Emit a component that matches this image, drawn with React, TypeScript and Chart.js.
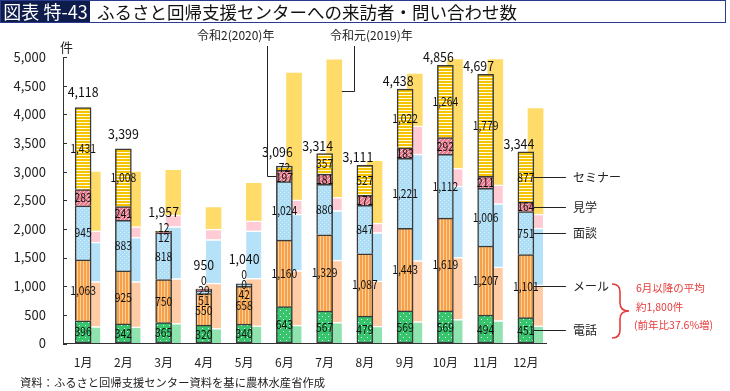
import React, { useEffect, useRef } from 'react';
import { Chart, registerables } from 'chart.js';

Chart.register(...registerables);

const FONT = '"Noto Sans CJK JP", "Noto Sans", sans-serif';
const NUM_FONT = '"Noto Sans CJK JP", "Noto Sans", sans-serif';

// ---- data ----
const MONTHS = ['1月', '2月', '3月', '4月', '5月', '6月', '7月', '8月', '9月', '10月', '11月', '12月'];
const SERIES_NAMES = ['電話', 'メール', '面談', '見学', 'セミナー'];

// 令和2(2020)年
const PHONE_2020 = [396, 342, 365, 320, 340, 643, 567, 479, 569, 569, 494, 451];
const MAIL_2020 = [1063, 925, 750, 550, 658, 1160, 1329, 1087, 1443, 1619, 1207, 1101];
const MEET_2020 = [945, 883, 818, 51, 42, 1024, 880, 847, 1221, 1112, 1006, 751];
const VISIT_2020 = [283, 241, 12, 29, 0, 197, 181, 171, 183, 292, 211, 164];
const SEMINAR_2020 = [1431, 1008, 12, 0, 0, 72, 357, 527, 1022, 1264, 1779, 877];

// 令和元(2019)年
const PHONE_2019 = [295, 290, 350, 266, 308, 323, 370, 306, 381, 423, 402, 309];
const MAIL_2019 = [785, 790, 783, 788, 830, 950, 1084, 786, 1067, 1080, 934, 713];
const MEET_2019 = [690, 775, 909, 761, 830, 985, 867, 845, 1857, 1243, 1104, 991];
const VISIT_2019 = [195, 187, 201, 183, 173, 250, 228, 163, 495, 309, 330, 247];
const SEMINAR_2019 = [1025, 950, 777, 376, 655, 2212, 2401, 1078, 903, 1899, 2184, 1838];

const Y_MAX = 5000;
const Y_STEP = 500;
const ANNOTATION_2019_VALUE = 4400;

const SERIES_2020 = [PHONE_2020, MAIL_2020, MEET_2020, VISIT_2020, SEMINAR_2020];
const SERIES_2019 = [PHONE_2019, MAIL_2019, MEET_2019, VISIT_2019, SEMINAR_2019];

// ---- styles ----
const COLORS_2019 = ['#8FE3AE', '#FFCCA6', '#B5E2F8', '#FFCCD6', '#FFDB6A'];
const BORDER_2020 = '#3a3a3a';
const SHIFT_2019 = 0.24;
const RED = '#E63B3B';

const fmt = (v: number) => v.toLocaleString('en-US');

function makePattern(w: number, h: number, base: string, paint: (g: CanvasRenderingContext2D) => void) {
  const c = document.createElement('canvas');
  c.width = w;
  c.height = h;
  const g = c.getContext('2d') as CanvasRenderingContext2D;
  g.fillStyle = base;
  g.fillRect(0, 0, w, h);
  paint(g);
  return g.createPattern(c, 'repeat') as CanvasPattern;
}

function makePatterns2020() {
  const phone = makePattern(6, 6, '#36C46C', (g) => {
    g.fillStyle = '#E8FFF0';
    g.fillRect(1, 1, 1, 1);
    g.fillRect(4, 4, 1, 1);
  });
  const mail = makePattern(3, 1, '#F6A049', (g) => {
    g.fillStyle = '#FFD09C';
    g.fillRect(2, 0, 1, 1);
  });
  const meet = makePattern(4, 4, '#AEDDF6', (g) => {
    g.fillStyle = '#D6EFFB';
    g.fillRect(0, 0, 1, 1);
    g.fillRect(2, 2, 1, 1);
  });
  const visit = makePattern(4, 4, '#EA7A8D', (g) => {
    g.fillStyle = '#FAC6CF';
    g.fillRect(3, 0, 1, 1);
    g.fillRect(2, 1, 1, 1);
    g.fillRect(1, 2, 1, 1);
    g.fillRect(0, 3, 1, 1);
  });
  const seminar = makePattern(1, 3, '#F5C400', (g) => {
    g.fillStyle = '#FFFAE0';
    g.fillRect(0, 2, 1, 1);
  });
  return [phone, mail, meet, visit, seminar];
}

// spread label centres (bottom first) so that neighbours keep a minimum gap
function spread(centers: number[], gap: number): number[] {
  type Cl = { idx: number[]; sum: number };
  let clusters: Cl[] = centers.map((c, i) => ({ idx: [i], sum: c }));
  const pos = (cl: Cl) => {
    const n = cl.idx.length;
    const mean = cl.sum / n;
    return cl.idx.map((_, j) => mean + ((n - 1) / 2 - j) * gap);
  };
  let changed = true;
  while (changed) {
    changed = false;
    for (let k = 0; k < clusters.length - 1; k++) {
      const a = pos(clusters[k]);
      const b = pos(clusters[k + 1]);
      if (a[a.length - 1] - b[0] < gap - 0.01) {
        clusters[k] = { idx: clusters[k].idx.concat(clusters[k + 1].idx), sum: clusters[k].sum + clusters[k + 1].sum };
        clusters.splice(k + 1, 1);
        changed = true;
        break;
      }
    }
  }
  const out: number[] = new Array(centers.length);
  clusters.forEach((cl) => {
    const p = pos(cl);
    cl.idx.forEach((id, j) => (out[id] = p[j]));
  });
  return out;
}

function narrowText(ctx: CanvasRenderingContext2D, text: string, x: number, y: number, sx: number) {
  ctx.save();
  ctx.translate(x, y);
  ctx.scale(sx, 1);
  ctx.fillText(text, 0, 0);
  ctx.restore();
}

const overlayPlugin = {
  id: 'overlay',
  afterDatasetsDraw(chart: any) {
    const { ctx, chartArea, scales } = chart;
    const y = scales.y;
    const el = (ds: number, i: number) => chart.getDatasetMeta(ds).data[i] as any;
    ctx.save();

    // inward y ticks
    ctx.strokeStyle = '#333';
    ctx.lineWidth = 1;
    y.ticks.forEach((t: any) => {
      const py = Math.round(y.getPixelForValue(t.value)) + 0.5;
      ctx.beginPath();
      ctx.moveTo(chartArea.left, py);
      ctx.lineTo(chartArea.left + 4, py);
      ctx.stroke();
    });

    // segment labels and totals
    ctx.textAlign = 'center';
    ctx.textBaseline = 'middle';
    ctx.fillStyle = '#111';
    for (let i = 0; i < MONTHS.length; i++) {
      const centers = SERIES_2020.map((_, k) => {
        const e = el(5 + k, i);
        return (e.y + e.base) / 2;
      });
      const ys = spread(centers, 10);
      const cx = el(5, i).x;
      ctx.font = `12px ${NUM_FONT}`;
      SERIES_2020.forEach((arr, k) => narrowText(ctx, fmt(arr[i]), cx, ys[k], 0.86));

      const total2020 = SERIES_2020.reduce((s, a) => s + a[i], 0);
      const total2019 = SERIES_2019.reduce((s, a) => s + a[i], 0);
      const behind = total2019 > total2020 && total2020 > 3000;
      const top = el(9, i).y;
      const ty = Math.min(top - (behind ? 8 : 15), ys[4] - 15);
      ctx.font = `13px ${FONT}`;
      narrowText(ctx, fmt(total2020), cx - (behind ? 7 : 0), ty, 0.95);
    }

    // right-hand legend lines (December bar)
    ctx.strokeStyle = '#222';
    ctx.lineWidth = 1;
    ctx.textAlign = 'left';
    ctx.font = `12px ${FONT}`;
    ctx.fillStyle = '#222';
    SERIES_NAMES.forEach((name, k) => {
      const e = el(5 + k, MONTHS.length - 1);
      const yy = Math.round((e.y + e.base) / 2) + 0.5;
      const x0 = e.x + e.width / 2;
      ctx.beginPath();
      ctx.moveTo(x0, yy);
      ctx.lineTo(x0 + 32, yy);
      ctx.stroke();
      ctx.fillText(name, x0 + 39, yy);
    });

    // year annotation connectors
    const j = el(5 + 3, 5);
    const left = j.x - j.width / 2;
    const ay = Math.round((j.y + j.base) / 2) + 0.5;
    const vx = Math.round(left - 9) + 0.5;
    ctx.beginPath();
    ctx.moveTo(vx, 46);
    ctx.lineTo(vx, ay);
    ctx.lineTo(left, ay);
    ctx.stroke();

    const s = el(4, 6);
    const right = s.x + s.width / 2;
    const ay2 = Math.round(y.getPixelForValue(ANNOTATION_2019_VALUE)) + 0.5;
    const vx2 = Math.round(right + 12) + 0.5;
    ctx.beginPath();
    ctx.moveTo(vx2, 46);
    ctx.lineTo(vx2, ay2);
    ctx.lineTo(right, ay2);
    ctx.stroke();

    // red brace
    ctx.strokeStyle = RED;
    ctx.lineWidth = 1.6;
    ctx.beginPath();
    ctx.moveTo(612, 284);
    ctx.quadraticCurveTo(620, 284, 620, 292);
    ctx.lineTo(620, 303);
    ctx.quadraticCurveTo(620, 311, 629, 311);
    ctx.quadraticCurveTo(620, 311, 620, 319);
    ctx.lineTo(620, 330);
    ctx.quadraticCurveTo(620, 338, 612, 338);
    ctx.stroke();

    ctx.restore();
  },
};

export default function App() {
  const ref = useRef<HTMLCanvasElement>(null);

  useEffect(() => {
    const canvas = ref.current as HTMLCanvasElement;
    Chart.defaults.font.family = FONT;
    const patterns = makePatterns2020();

    const ds2019 = SERIES_2019.map((arr, k) => ({
      label: SERIES_NAMES[k] + ' 2019',
      data: arr.map((v, i) => ({ x: i, y: v })),
      xAxisID: 'x2',
      yAxisID: 'y',
      stack: 's2019',
      order: 2,
      grouped: false,
      backgroundColor: COLORS_2019[k],
      borderColor: '#ffffff',
      borderWidth: k < 4 ? { top: 1.5, left: 0, right: 0, bottom: 0 } : 0,
      borderSkipped: false,
      barThickness: 15,
    }));

    const ds2020 = SERIES_2020.map((arr, k) => ({
      label: SERIES_NAMES[k] + ' 2020',
      data: arr,
      xAxisID: 'x',
      yAxisID: 'y',
      stack: 's2020',
      order: 1,
      grouped: false,
      backgroundColor: patterns[k],
      borderColor: BORDER_2020,
      borderWidth: { top: 1.5, left: 1.5, right: 1.5, bottom: k === 0 ? 1.5 : 0 },
      borderSkipped: false,
      barThickness: 16,
    }));

    const chart = new Chart(canvas, {
      type: 'bar',
      data: { labels: MONTHS, datasets: [...ds2019, ...ds2020] as any },
      options: {
        responsive: false,
        maintainAspectRatio: false,
        devicePixelRatio: 1,
        animation: false,
        layout: { padding: { top: 57, right: 184, bottom: 0, left: 0 } },
        plugins: { legend: { display: false }, tooltip: { enabled: false } },
        scales: {
          x: {
            type: 'category',
            stacked: true,
            offset: true,
            grid: { display: true, drawOnChartArea: false, drawTicks: false },
            border: { display: true, color: '#333', width: 1 },
            ticks: { font: { family: FONT, size: 12 }, color: '#222', padding: 12, maxRotation: 0, autoSkip: false },
            afterFit: (s: any) => {
              s.height = 47.5;
            },
          },
          x2: {
            type: 'linear',
            display: false,
            stacked: true,
            offset: false,
            min: -0.5 - SHIFT_2019,
            max: MONTHS.length - 0.5 - SHIFT_2019,
          },
          y: {
            stacked: true,
            min: 0,
            max: Y_MAX,
            grid: { display: true, drawOnChartArea: false, drawTicks: false },
            border: { display: true, color: '#333', width: 1 },
            ticks: {
              stepSize: Y_STEP,
              font: { family: FONT, size: 13 },
              color: '#222',
              padding: 17,
              callback: (v: any) => fmt(Number(v)),
            },
            afterFit: (s: any) => {
              s.width = 63;
            },
          },
        } as any,
      },
      plugins: [overlayPlugin as any],
    });
    return () => chart.destroy();
  }, []);

  const abs = (extra: React.CSSProperties): React.CSSProperties => ({
    position: 'absolute',
    whiteSpace: 'nowrap',
    pointerEvents: 'none',
    ...extra,
  });

  return (
    <div style={{ position: 'absolute', left: 0, top: 0, width: 730, height: 391, background: '#fff', fontFamily: FONT, color: '#222', overflow: 'hidden' }}>
      <canvas ref={ref} width={730} height={391} style={{ position: 'absolute', left: 0, top: 0, width: 730, height: 391, display: 'block' }} />
      {/* title */}
      <div style={abs({ left: 0, top: 0, width: 726, height: 23, border: '1px solid #2a3b8f', boxSizing: 'border-box' })}>
        <div style={abs({ left: 0, top: 0, width: 89, height: 21, background: '#0d1c4a', color: '#fff', fontSize: 18, lineHeight: '21px', textAlign: 'center' })}>
          図表 特-43
        </div>
        <div style={abs({ left: 96, top: 0, height: 21, color: '#111', fontSize: 17.5, lineHeight: '21px' })}>
          ふるさと回帰支援センターへの来訪者・問い合わせ数
        </div>
      </div>
      <div style={abs({ left: 60, top: 39, fontSize: 13, lineHeight: '16px' })}>件</div>
      <div style={abs({ left: 197, top: 27, fontSize: 12, lineHeight: '16px' })}>令和2(2020)年</div>
      <div style={abs({ left: 330, top: 27, fontSize: 12, lineHeight: '16px' })}>令和元(2019)年</div>
      <div style={abs({ left: 636, top: 281, fontSize: 10.5, lineHeight: '14px', color: RED })}>6月以降の平均</div>
      <div style={abs({ left: 636, top: 300, fontSize: 10.5, lineHeight: '14px', color: RED })}>約1,800件</div>
      <div style={abs({ left: 634, top: 318, fontSize: 10.5, lineHeight: '14px', color: RED })}>(前年比37.6%増)</div>
      <div style={abs({ left: 20, top: 375, fontSize: 11.3, lineHeight: '15px' })}>資料：ふるさと回帰支援センター資料を基に農林水産省作成</div>
    </div>
  );
}
